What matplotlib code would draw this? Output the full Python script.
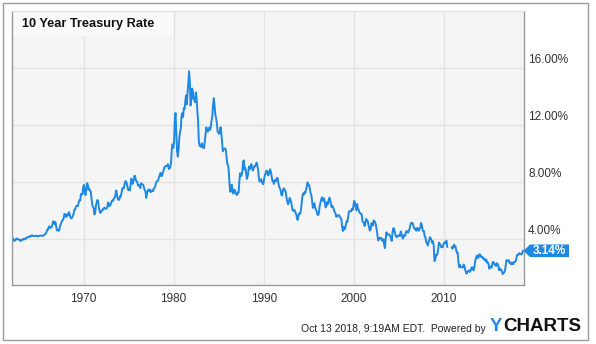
import numpy as np
import matplotlib.pyplot as plt
from matplotlib.patches import Rectangle, Polygon
import matplotlib.transforms as mtransforms

plt.rcParams['font.family'] = ['Liberation Sans', 'DejaVu Sans']

# monthly 10 year treasury rate, Jan 1962 .. Oct 2018 (nan = gap in the source chart)
start_year = 1962
rates = [
    4.08, 4.04, 3.93, 3.84, 3.87, 3.91, 4.01, 3.98, 3.98, 3.93, 3.92, 3.86,
    3.83, 3.92, 3.93, 3.97, 3.93, 3.99, 4.02, 4.00, 4.08, 4.11, 4.12, 4.13,
    4.17, 4.15, 4.22, 4.23, 4.20, 4.17, 4.19, 4.19, 4.20, 4.19, 4.15, 4.18,
    4.19, 4.21, 4.21, 4.20, 4.21, 4.21, 4.20, 4.25, 4.29, 4.35, 4.45, 4.62,
    4.61, 4.83, 4.87, 4.75, 4.78, 4.81, 5.02, 5.22, 5.18, 5.01, 5.16, 4.84,
    4.58, 4.63, 4.54, 4.59, 4.85, 5.02, 5.16, 5.28, 5.30, 5.48, 5.75, 5.70,
    5.53, 5.56, 5.74, 5.64, 5.87, 5.72, 5.50, 5.42, 5.46, 5.58, 5.70, 6.03,
    6.04, 6.19, 6.30, np.nan, 6.32, 6.57, 6.72, 6.69, 7.16, 7.10, 7.14, 7.65,
    7.79, 7.24, 7.07, 7.39, 7.91, 7.84, 7.46, 7.53, 7.39, 7.33, 6.84, 6.39,
    6.24, 6.11, 5.70, 5.83, 6.39, 6.52, 6.73, 6.58, 6.14, 5.93, 5.81, 5.93,
    5.95, 6.08, 6.07, 6.19, 6.13, 6.11, 6.11, 6.21, 6.55, 6.48, 6.28, 6.36,
    6.46, 6.64, 6.71, 6.67, 6.85, 6.90, 7.13, 7.40, 7.09, 6.79, 6.73, 6.74,
    6.99, 6.96, 7.21, 7.51, 7.58, 7.54, 7.81, 8.04, 8.04, 7.90, 7.68, 7.43,
    7.50, 7.39, 7.73, 8.23, 8.06, 7.86, 8.06, 8.40, 8.43, 8.14, 8.05, 8.00,
    7.74, 7.79, 7.73, 7.56, 7.90, 7.86, 7.83, 7.77, 7.59, 7.41, 7.29, 6.87,
    7.21, 7.39, 7.46, 7.37, 7.46, 7.28, 7.33, 7.40, 7.34, 7.52, 7.58, 7.69,
    7.96, 8.03, 8.04, 8.15, 8.35, 8.46, 8.64, 8.41, 8.42, 8.64, 8.81, 9.01,
    9.10, 9.10, 9.12, 9.18, 9.25, 8.91, 8.95, 9.03, 9.33, 10.30, 10.65, 10.39,
    10.80, 12.41, 12.85, 11.47, 10.18, 9.78, 10.25, 11.10, 11.51, 11.75, 12.68, 12.84,
    12.57, 13.19, 13.12, 13.68, 14.10, 13.47, 14.28, 14.94, 15.80, 15.15, 13.39, 13.72,
    14.59, 14.43, 13.86, 13.87, 13.62, 14.30, 13.95, 13.06, 12.34, 10.91, 10.55, 10.54,
    10.46, 10.72, 10.51, 10.40, 10.38, 10.85, 11.38, 11.85, 11.65, 11.54, 11.69, 11.83,
    11.67, 11.84, 12.32, 12.63, 13.41, 13.90, 13.36, 12.72, 12.52, 12.16, 11.57, 11.50,
    11.38, 11.51, 11.86, 11.43, 10.85, 10.16, 10.31, 10.33, 10.37, 10.24, 9.78, 9.26,
    9.19, 8.70, 7.78, 7.30, 7.71, 7.80, 7.30, 7.17, 7.45, 7.43, 7.25, 7.11,
    7.08, 7.25, 7.25, 8.02, 8.61, 8.40, 8.45, 8.76, 9.42, 9.52, 8.86, 8.99,
    8.67, 8.21, 8.37, 8.72, 9.09, 8.92, 9.06, 9.26, 8.98, 8.80, 8.96, 9.11,
    9.09, 9.17, 9.36, 9.18, 8.86, 8.28, 8.02, 8.11, 8.19, 8.01, 7.87, 7.84,
    8.21, 8.47, 8.59, 8.79, 8.76, 8.48, 8.47, 8.75, 8.89, 8.72, 8.39, 8.08,
    8.09, 7.85, 8.11, 8.04, 8.07, 8.28, 8.27, 7.90, 7.65, 7.53, 7.42, 7.09,
    7.03, 7.34, 7.54, 7.48, 7.39, 7.26, 6.84, 6.59, 6.42, 6.59, 6.87, 6.77,
    6.60, 6.26, 5.98, 5.97, 6.04, 5.96, 5.81, 5.68, 5.36, 5.33, 5.72, 5.77,
    5.75, 5.97, 6.48, 6.97, 7.18, 7.10, 7.30, 7.24, 7.46, 7.74, 7.96, 7.81,
    7.78, 7.47, 7.20, 7.06, 6.63, 6.17, 6.28, 6.49, 6.20, 6.04, 5.93, 5.71,
    5.65, 5.81, 6.27, 6.51, 6.74, 6.91, 6.87, 6.64, 6.83, 6.53, 6.20, 6.30,
    6.58, 6.42, 6.69, 6.89, 6.71, 6.49, 6.22, 6.30, 6.21, 6.03, 5.88, 5.81,
    5.54, 5.57, 5.65, 5.64, 5.65, 5.50, 5.46, 5.34, 4.81, 4.53, 4.83, 4.65,
    4.72, 5.00, 5.23, 5.18, 5.54, 5.90, np.nan, 5.94, 5.92, 6.11, 6.03, 6.28,
    6.66, 6.52, 6.26, 5.99, 6.44, 6.10, 6.05, 5.83, 5.80, 5.74, 5.72, 5.24,
    5.16, 5.10, 4.89, 5.14, 5.39, 5.28, 5.24, 4.97, 4.73, 4.57, 4.65, 5.09,
    5.04, 4.91, 5.28, 5.21, 5.16, 4.93, 4.65, 4.26, 3.87, 3.94, 4.05, 4.03,
    4.05, 3.90, 3.81, 3.96, 3.57, 3.33, 3.98, 4.45, 4.27, 4.29, 4.30, 4.27,
    4.15, 4.08, 3.83, 4.35, 4.72, 4.73, 4.50, 4.28, 4.13, 4.10, 4.19, 4.23,
    4.22, 4.17, 4.50, 4.34, 4.14, 4.00, 4.18, 4.26, 4.20, 4.46, 4.54, 4.47,
    4.42, 4.57, 4.72, 4.99, 5.11, 5.11, 5.09, 4.88, 4.72, 4.73, 4.60, 4.56,
    4.76, 4.72, 4.56, 4.69, 4.75, 5.10, 5.00, 4.67, 4.52, 4.53, 4.15, 4.10,
    3.74, 3.74, 3.51, 3.68, 3.88, 4.10, 4.01, 3.89, 3.69, 3.81, 3.53, 2.42,
    2.52, 2.87, 2.82, 2.93, 3.29, 3.72, 3.56, 3.59, 3.40, 3.39, 3.40, 3.59,
    3.73, 3.69, 3.73, 3.85, 3.42, np.nan, np.nan, np.nan, np.nan, np.nan, 3.40, 3.29,
    3.39, 3.58, 3.41, 3.46, 3.17, 3.00, 3.00, 2.30, 1.98, 2.15, 2.01, 1.98,
    1.97, 1.97, 2.17, 2.05, 1.80, 1.62, 1.53, 1.68, 1.72, 1.75, 1.65, 1.72,
    1.91, 1.98, 1.96, 1.76, 1.93, 2.30, 2.58, 2.74, 2.81, 2.62, 2.72, 2.90,
    2.86, 2.71, 2.72, 2.71, 2.56, 2.60, 2.54, 2.42, 2.53, 2.30, 2.33, 2.21,
    1.88, 1.98, 2.04, 1.94, 2.20, 2.36, 2.32, 2.17, 2.17, 2.07, 2.26, 2.24,
    2.09, 1.78, 1.89, 1.81, 1.81, 1.64, 1.50, 1.56, 1.63, 1.76, 2.14, 2.49,
    2.43, 2.42, 2.48, 2.30, 2.30, 2.19, 2.32, 2.21, 2.20, 2.36, 2.35, 2.40,
    2.58, 2.86, 2.84, 2.87, 2.98, 2.91, 2.89, 2.89, 3.00, 3.14,
]
x_ticks = [1970, 1980, 1990, 2000, 2010]
y_ticks = [4, 8, 12, 16]
y_labels = ['4.00%', '8.00%', '12.00%', '16.00%']
last_label = '3.14%'

rates = np.array(rates, dtype=float)
dates = start_year + (np.arange(len(rates)) + 0.5) / 12.0

blue = '#1e88e5'
fig = plt.figure(figsize=(5.96, 3.44), dpi=100)
fig.patch.set_facecolor('white')

# outer frame
fig.patches.append(Rectangle((2.5 / 596, 1 - 340 / 344), 585 / 596, 337.5 / 344,
                             transform=fig.transFigure, fill=False,
                             edgecolor='#9a9a9a', linewidth=1.0))

ax = fig.add_axes([12 / 596, 1 - 284.7 / 344, 512 / 596, 273.7 / 344])
ax.set_facecolor('#f5f5f5')
ax.plot(dates, rates, color=blue, linewidth=1.4, solid_joinstyle='round')
ax.set_xlim(1962.05, 2018.9)
ax.set_ylim(0.75, 20.05)

ax.set_xticks(x_ticks)
ax.set_yticks(y_ticks)
ax.grid(True, color='#e3e3e3', linewidth=1.0)
ax.set_axisbelow(True)
ax.tick_params(axis='x', length=0, pad=6, labelsize=8.5, labelcolor='#333333')
ax.tick_params(axis='y', length=0, labelleft=False, labelright=False)
for s in ['left', 'bottom', 'right']:
    ax.spines[s].set_color('#999999')
    ax.spines[s].set_linewidth(1.0)
ax.spines['top'].set_color('#e0e0e0')

# y labels sit above their grid lines, right of the plot
off = mtransforms.ScaledTranslation(0, 8 / 100, fig.dpi_scale_trans)
tr = mtransforms.blended_transform_factory(ax.transAxes, ax.transData) + off
for v, lab in zip(y_ticks, y_labels):
    ax.text(1.008, v, lab, transform=tr, ha='left', va='center',
            fontsize=8.5, color='#333333', clip_on=False)

# title box
ax.add_patch(Rectangle((0, 1 - 25 / 273.7), 161 / 512, 25 / 273.7,
                       transform=ax.transAxes, facecolor='#fafafa',
                       edgecolor='none', zorder=1))
ax.text(10 / 512, 1 - 12.5 / 273.7, '10 Year Treasury Rate', transform=ax.transAxes,
        ha='left', va='center', fontsize=9.2, fontweight='bold', color='#111111')

# last value callout
last = rates[-1]
trl = mtransforms.blended_transform_factory(fig.transFigure, ax.transData)
h = 6.3 * (ax.get_ylim()[1] - ax.get_ylim()[0]) / 273.7
x0, x1, x2 = 523.5 / 596, 530 / 596, 569 / 596
ax.add_patch(Polygon([(x0, last), (x1, last + h), (x2, last + h), (x2, last - h),
                      (x1, last - h)], closed=True, transform=trl,
                     facecolor=blue, edgecolor='none', clip_on=False, zorder=5))
ax.text((x1 + x2) / 2, last, last_label, transform=trl, ha='center', va='center',
        fontsize=8.5, fontweight='bold', color='white', zorder=6)

# footer
fig.text(486 / 596, 1 - 329 / 344, 'Oct 13 2018, 9:19AM EDT.  Powered by',
         ha='right', va='center', fontsize=7.5, color='#222222')
fig.text(490 / 596, 1 - 326.5 / 344, 'Y', ha='left', va='center',
         fontsize=13.5, fontweight='bold', color=blue)
fig.text(503 / 596, 1 - 326.5 / 344, 'CHARTS', ha='left', va='center',
         fontsize=13.5, fontweight='bold', color='#111111')

fig.savefig('out.png', dpi=100)
